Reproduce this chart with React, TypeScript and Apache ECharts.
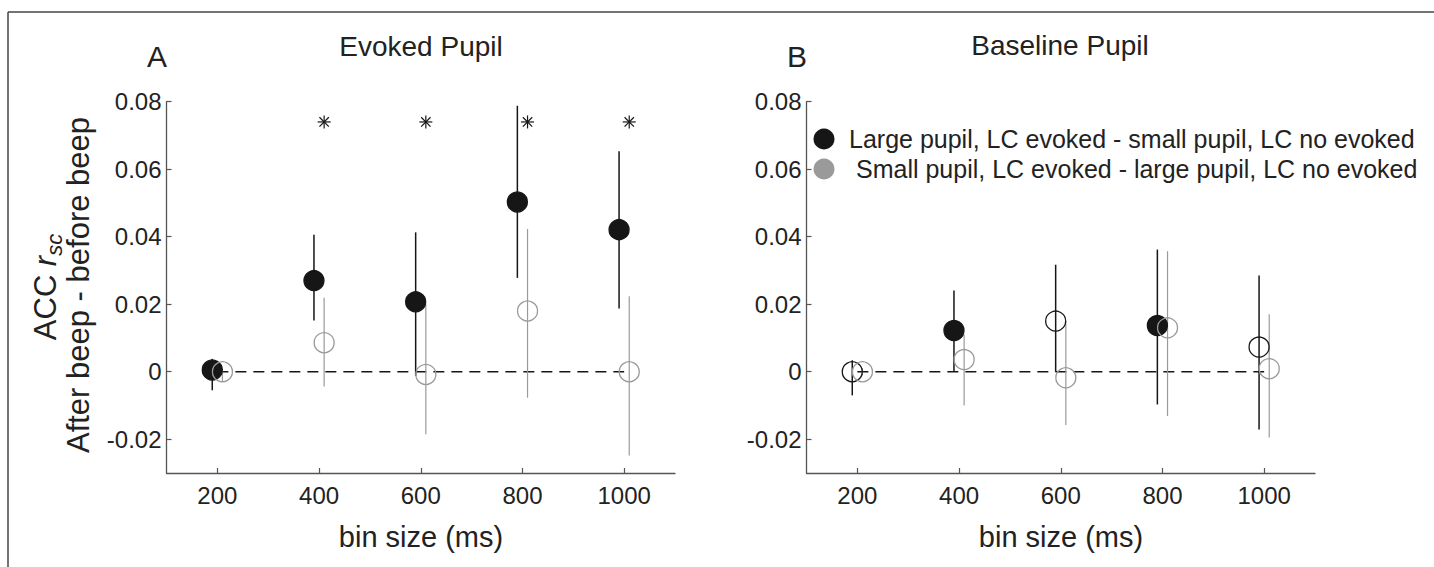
import React, { useEffect, useRef } from "react";
import * as echarts from "echarts";

// ---------- data ----------
const binSizes = [200, 400, 600, 800, 1000];
const largeX = [190, 390, 590, 790, 990];
const smallX = [210, 410, 610, 810, 1010];
const yTicks = [-0.02, 0, 0.02, 0.04, 0.06, 0.08];

// Panel A: Evoked pupil
const aLargeMean = [0.0005, 0.027, 0.0207, 0.0503, 0.0421];
const aLargeLow = [-0.0055, 0.0152, -0.0012, 0.0278, 0.0187];
const aLargeHigh = [0.0038, 0.0406, 0.0413, 0.0788, 0.0653];
const aLargeFilled = [true, true, true, true, true];
const aSmallMean = [0, 0.0086, -0.0008, 0.018, 0];
const aSmallLow = [-0.003, -0.0044, -0.0185, -0.0077, -0.0248];
const aSmallHigh = [0.001, 0.0219, 0.0199, 0.0423, 0.0224];
const aStarX = [410, 610, 810, 1010];
const aStarY = [0.074, 0.074, 0.074, 0.074];

// Panel B: Baseline pupil
const bLargeMean = [0, 0.0122, 0.015, 0.0137, 0.0073];
const bLargeLow = [-0.007, 0.0002, 0.0, -0.0097, -0.0171];
const bLargeHigh = [0.0034, 0.0241, 0.0317, 0.0362, 0.0285];
const bLargeFilled = [false, true, false, true, false];
const bSmallMean = [0, 0.0036, -0.0018, 0.013, 0.0009];
const bSmallLow = [-0.001, -0.01, -0.0158, -0.0131, -0.0195];
const bSmallHigh = [0.001, 0.011, 0.015, 0.0357, 0.017];

const zeroLine = [[200, 0], [1000, 0]];

const legendLarge = "Large pupil, LC evoked - small pupil, LC no evoked";
const legendSmall = "Small pupil, LC evoked - large pupil, LC no evoked";

// ---------- styles ----------
const FONT = "'Liberation Sans', Arial, Helvetica, sans-serif";
const BLACK = "#161616";
const GRAY = "#9a9a9a";
const AXIS = "#555555";
const TEXT = "#222222";

function errorSeries(name: string, grid: number, xs: number[], lo: number[], hi: number[], color: string, width: number) {
  return {
    type: "custom",
    name,
    xAxisIndex: grid,
    yAxisIndex: grid,
    z: 3,
    encode: { x: 0, y: [1, 2] },
    data: xs.map((x, i) => [x, lo[i], hi[i]]),
    renderItem: (params: any, api: any) => {
      const p1 = api.coord([api.value(0), api.value(1)]);
      const p2 = api.coord([api.value(0), api.value(2)]);
      return {
        type: "line",
        shape: { x1: p1[0], y1: p1[1], x2: p2[0], y2: p2[1] },
        style: { stroke: color, lineWidth: width },
      };
    },
  };
}

function markerSeries(name: string, grid: number, xs: number[], ys: number[], filled: boolean[], color: string) {
  return {
    type: "scatter",
    name,
    xAxisIndex: grid,
    yAxisIndex: grid,
    z: 4,
    symbol: "circle",
    symbolSize: 20,
    data: xs.map((x, i) => ({
      value: [x, ys[i]],
      itemStyle: {
        color: filled[i] ? color : "rgba(0,0,0,0)",
        borderColor: color,
        borderWidth: 1.3,
        opacity: 1,
      },
    })),
  };
}

function zeroSeries(grid: number) {
  return {
    type: "line",
    xAxisIndex: grid,
    yAxisIndex: grid,
    z: 2,
    symbol: "none",
    data: zeroLine,
    lineStyle: { color: BLACK, width: 1.3, type: [11, 7] },
  };
}

function starSeries(grid: number, xs: number[], ys: number[]) {
  return {
    type: "custom",
    xAxisIndex: grid,
    yAxisIndex: grid,
    z: 5,
    data: xs.map((x, i) => [x, ys[i]]),
    renderItem: (params: any, api: any) => {
      const c = api.coord([api.value(0), api.value(1)]);
      const r = 6.5;
      const d = r * 0.72;
      const st = { stroke: BLACK, lineWidth: 1.2 };
      return {
        type: "group",
        children: [
          { type: "line", shape: { x1: c[0] - r, y1: c[1], x2: c[0] + r, y2: c[1] }, style: st },
          { type: "line", shape: { x1: c[0], y1: c[1] - r, x2: c[0], y2: c[1] + r }, style: st },
          { type: "line", shape: { x1: c[0] - d, y1: c[1] - d, x2: c[0] + d, y2: c[1] + d }, style: st },
          { type: "line", shape: { x1: c[0] - d, y1: c[1] + d, x2: c[0] + d, y2: c[1] - d }, style: st },
        ],
      };
    },
  };
}

function xAxisCfg(grid: number) {
  return {
    gridIndex: grid,
    type: "value",
    min: 100,
    max: 1100,
    axisLine: { show: true, onZero: false, lineStyle: { color: AXIS, width: 1.3 } },
    axisTick: { show: true, inside: true, length: 5, customValues: binSizes, lineStyle: { color: AXIS, width: 1.2 } },
    axisLabel: {
      customValues: binSizes,
      fontSize: 24,
      color: TEXT,
      fontFamily: FONT,
      margin: 10,
      formatter: (v: number) => String(v),
    },
    splitLine: { show: false },
  };
}

function yAxisCfg(grid: number) {
  return {
    gridIndex: grid,
    type: "value",
    min: -0.03,
    max: 0.08,
    axisLine: { show: true, onZero: false, lineStyle: { color: AXIS, width: 1.3 } },
    axisTick: { show: true, inside: true, length: 5, customValues: yTicks, lineStyle: { color: AXIS, width: 1.2 } },
    axisLabel: {
      customValues: yTicks,
      fontSize: 24,
      color: TEXT,
      fontFamily: FONT,
      margin: 5,
      formatter: (v: number) => (Math.abs(v) < 1e-9 ? "0" : v.toFixed(2)),
    },
    splitLine: { show: false },
  };
}

function txt(text: string, x: number, y: number, size: number, extra: any = {}) {
  return {
    type: "text",
    x,
    y,
    ...extra,
    style: { text, fontSize: size, fontFamily: FONT, fill: TEXT, align: "center", verticalAlign: "middle", ...(extra.style || {}) },
  };
}

export default function App() {
  const ref = useRef<HTMLDivElement>(null);
  useEffect(() => {
    if (!ref.current) return;
    const chart = echarts.init(ref.current, null, { renderer: "svg" });
    const option: any = {
      animation: false,
      backgroundColor: "#ffffff",
      grid: [
        { left: 166.5, top: 101.7, width: 508.5, height: 371.3 },
        { left: 806.5, top: 101.7, width: 508.5, height: 371.3 },
      ],
      xAxis: [xAxisCfg(0), xAxisCfg(1)],
      yAxis: [yAxisCfg(0), yAxisCfg(1)],
      series: [
        zeroSeries(0),
        errorSeries("A large err", 0, largeX, aLargeLow, aLargeHigh, BLACK, 1.5),
        errorSeries("A small err", 0, smallX, aSmallLow, aSmallHigh, GRAY, 1.2),
        markerSeries(legendLarge, 0, largeX, aLargeMean, aLargeFilled, BLACK),
        markerSeries(legendSmall, 0, smallX, aSmallMean, [false, false, false, false, false], GRAY),
        starSeries(0, aStarX, aStarY),
        zeroSeries(1),
        errorSeries("B large err", 1, largeX, bLargeLow, bLargeHigh, BLACK, 1.5),
        errorSeries("B small err", 1, smallX, bSmallLow, bSmallHigh, GRAY, 1.2),
        markerSeries(legendLarge, 1, largeX, bLargeMean, bLargeFilled, BLACK),
        markerSeries(legendSmall, 1, smallX, bSmallMean, [false, false, false, false, false], GRAY),
      ],
      graphic: [
        { type: "line", shape: { x1: 8, y1: 12, x2: 1434, y2: 12 }, style: { stroke: "#444", lineWidth: 1.5 } },
        { type: "line", shape: { x1: 8, y1: 12, x2: 8, y2: 567 }, style: { stroke: "#444", lineWidth: 1.5 } },
        txt("A", 157, 56, 30),
        txt("Evoked Pupil", 421, 46, 28),
        txt("B", 797, 56, 30),
        txt("Baseline Pupil", 1060, 45, 28),
        txt("bin size (ms)", 421, 537, 29),
        txt("bin size (ms)", 1061, 537, 29),
        {
          type: "text",
          x: 45,
          y: 287,
          rotation: Math.PI / 2,
          style: {
            text: "{n|ACC }{i|r}{s|sc}",
            fontFamily: FONT,
            fill: TEXT,
            align: "center",
            verticalAlign: "middle",
            rich: {
              n: { fontSize: 31, fontFamily: FONT, fill: TEXT, lineHeight: 40, verticalAlign: "middle" },
              i: { fontSize: 31, fontFamily: FONT, fill: TEXT, fontStyle: "italic", lineHeight: 40, verticalAlign: "middle" },
              s: { fontSize: 22, fontFamily: FONT, fill: TEXT, fontStyle: "italic", lineHeight: 40, verticalAlign: "bottom" },
            },
          },
        },
        txt("After beep - before beep", 78, 285, 31, { rotation: Math.PI / 2 }),
        { type: "circle", shape: { cx: 824, cy: 139, r: 10.5 }, style: { fill: BLACK } },
        { type: "circle", shape: { cx: 824, cy: 169, r: 10.5 }, style: { fill: GRAY } },
        txt(legendLarge, 849, 139, 25, { style: { align: "left" } }),
        txt(legendSmall, 856, 169, 25, { style: { align: "left" } }),
      ],
    };
    chart.setOption(option);
    return () => chart.dispose();
  }, []);
  return (
    <div
      ref={ref}
      style={{ position: "absolute", left: 0, top: 0, width: 1434, height: 567, background: "#fff" }}
    />
  );
}
